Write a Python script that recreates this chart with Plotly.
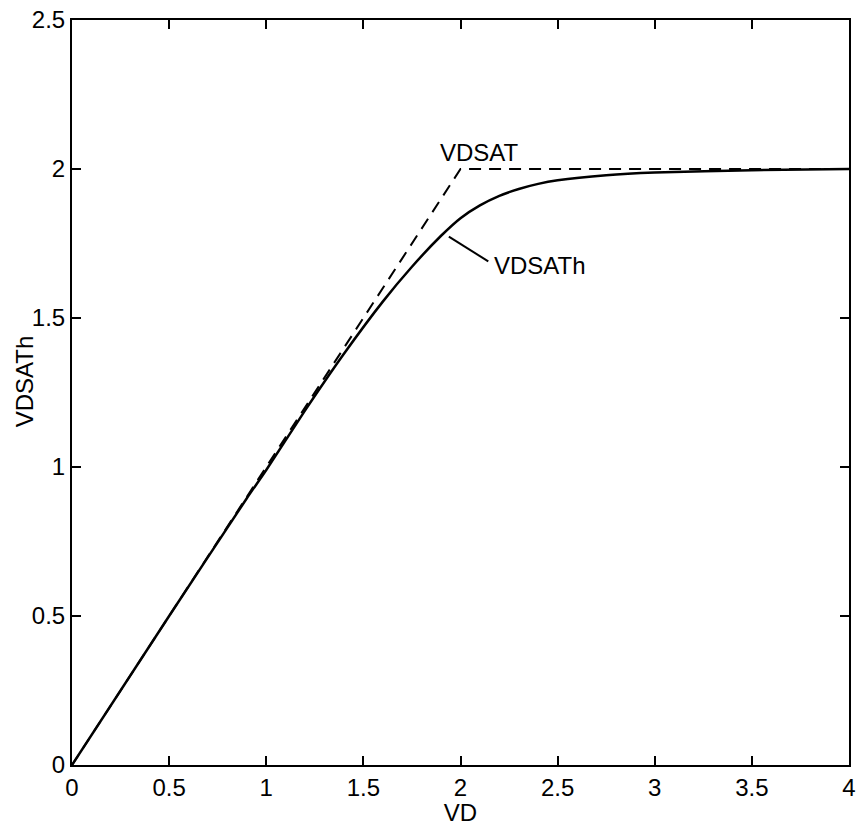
import plotly.graph_objects as go

# Saturation voltage: hard limit (piecewise) and smoothed version
vd_sat = [0.0, 2.0, 4.0]
vdsat = [0.0, 2.0, 2.0]

vd = [0.0, 0.5, 0.9, 1.0, 1.2, 1.4, 1.6, 1.75, 1.9, 2.0, 2.1, 2.2, 2.3, 2.4, 2.5, 2.75, 3.0, 3.5, 4.0]
vdsath = [0.0, 0.5, 0.895, 0.99, 1.19, 1.38, 1.555, 1.672, 1.776, 1.835, 1.878, 1.91,
          1.933, 1.95, 1.962, 1.979, 1.988, 1.996, 2.0]

x_ticks = [0, 0.5, 1, 1.5, 2, 2.5, 3, 3.5, 4]
y_ticks = [0, 0.5, 1, 1.5, 2, 2.5]

FONT = "Liberation Sans Narrow, Liberation Sans, Arial, sans-serif"

fig = go.Figure()
fig.add_trace(go.Scatter(x=vd_sat, y=vdsat, mode="lines",
                         line=dict(color="black", width=2, dash="12px,8px"),
                         showlegend=False, hoverinfo="skip"))
fig.add_trace(go.Scatter(x=vd, y=vdsath, mode="lines",
                         line=dict(color="black", width=2.5, shape="spline", smoothing=0.6),
                         showlegend=False))

# Labels for the two curves
fig.add_annotation(x=2.1, y=2.057, text="VDSAT", showarrow=False,
                   font=dict(family=FONT, size=24, color="black"))
fig.add_annotation(x=2.41, y=1.677, text="VDSATh", showarrow=False,
                   font=dict(family=FONT, size=24, color="black"))
fig.add_shape(type="line", x0=1.94, y0=1.773, x1=2.143, y1=1.69,
              line=dict(color="black", width=2))

# Y-axis title placed as rotated text left of the tick labels
fig.add_annotation(xref="paper", yref="paper", x=0, y=0.515, xanchor="center",
                   yanchor="middle", xshift=-48, textangle=-90, text="VDSATh",
                   showarrow=False, font=dict(family=FONT, size=24, color="black"))

axis_common = dict(
    showgrid=False, zeroline=False, showline=True, linecolor="black", linewidth=2,
    mirror="ticks", ticks="inside", ticklen=9, tickwidth=1.5, tickcolor="black",
    tickfont=dict(family=FONT, size=24, color="black"),
)

fig.update_layout(
    width=862, height=826,
    margin=dict(l=72, r=6, t=16, b=60),
    plot_bgcolor="white", paper_bgcolor="white",
    xaxis=dict(range=[0, 4], tickvals=x_ticks, ticktext=[f"{v:g}" for v in x_ticks],
               title=dict(text="VD", standoff=2,
                          font=dict(family=FONT, size=24, color="black")),
               **axis_common),
    yaxis=dict(range=[0, 2.5], tickvals=y_ticks, ticktext=[f"{v:g}" for v in y_ticks],
               **axis_common),
)

fig.write_html("out.html")
